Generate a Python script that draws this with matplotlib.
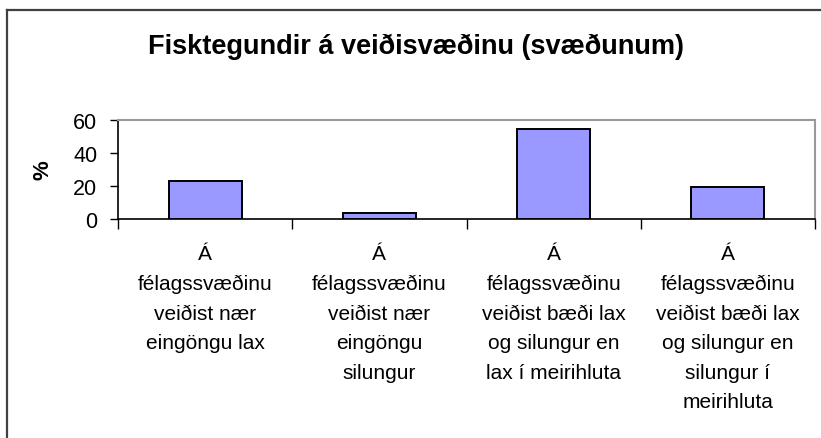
import matplotlib
matplotlib.use("Agg")
import matplotlib.pyplot as plt
from matplotlib.lines import Line2D
from matplotlib.ticker import FixedLocator

categories = [
    "Á\nfélagssvæðinu\nveiðist nær\neingöngu lax",
    "Á\nfélagssvæðinu\nveiðist nær\neingöngu\nsilungur",
    "Á\nfélagssvæðinu\nveiðist bæði lax\nog silungur en\nlax í meirihluta",
    "Á\nfélagssvæðinu\nveiðist bæði lax\nog silungur en\nsilungur í\nmeirihluta",
]
values = [23.1, 3.4, 54.4, 19.2]
yticks = [0, 20, 40, 60]
title = "Fisktegundir á veiðisvæðinu (svæðunum)"
ylabel = "%"

plt.rcParams['font.family'] = ['Liberation Sans', 'DejaVu Sans']

W, H = 821, 439
fig = plt.figure(figsize=(W / 100, H / 100), dpi=100)
left, right, top, bottom = 118, 815, 120.7, 220
ax = fig.add_axes([left / W, 1 - bottom / H, (right - left) / W, (bottom - top) / H])

x = list(range(len(values)))
ax.bar(x, values, width=0.42, color="#9999FF", edgecolor="black", linewidth=1.4, zorder=3)
ax.set_xlim(-0.5, len(values) - 0.5)
ax.set_ylim(0, 60)
ax.set_yticks(yticks)
ax.tick_params(axis='y', labelsize=15.5, length=6, width=1, direction='out', pad=9)

ax.set_xticks(x)
ax.set_xticklabels(categories, fontsize=15, linespacing=1.7, va='top')
ax.tick_params(axis='x', which='major', length=0, pad=18)
ax.xaxis.set_minor_locator(FixedLocator([i - 0.5 for i in range(len(values) + 1)]))
ax.tick_params(axis='x', which='minor', length=7, width=1, direction='out')

for s in ['left', 'bottom']:
    ax.spines[s].set_color('black')
    ax.spines[s].set_linewidth(1.2)
for s in ['top', 'right']:
    ax.spines[s].set_color('#999999')
    ax.spines[s].set_linewidth(1.5)

ax.set_ylabel(ylabel, fontsize=16, fontweight='bold', labelpad=14)
fig.text(416 / W, 1 - 47 / H, title, fontsize=19.5, fontweight='bold', ha='center', va='center')

# outer frame (left and top edges visible)
fig.add_artist(Line2D([7 / W, 7 / W], [0, 1 - 11 / H], color='#404040', linewidth=1.6,
                      transform=fig.transFigure))
fig.add_artist(Line2D([7 / W, 1], [1 - 11 / H, 1 - 11 / H], color='#404040', linewidth=1.6,
                      transform=fig.transFigure))

fig.savefig("out.png", dpi=100)
